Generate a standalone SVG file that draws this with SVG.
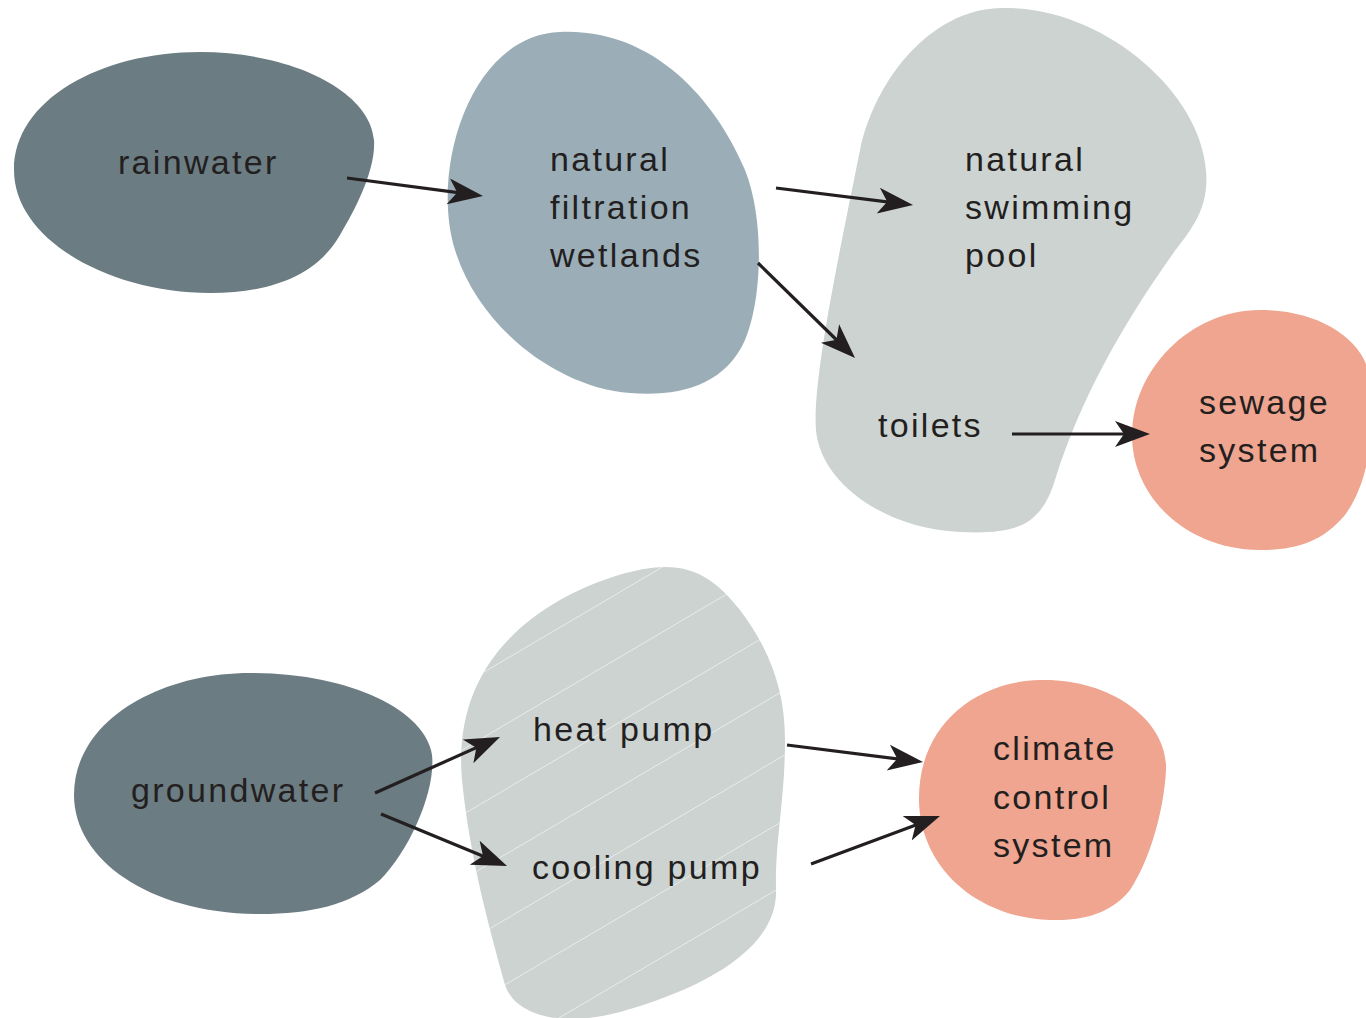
<svg xmlns="http://www.w3.org/2000/svg" width="1366" height="1018" viewBox="0 0 1366 1018">
<style>
.lbl{font-family:"Liberation Sans","DejaVu Sans",sans-serif;font-size:34px;letter-spacing:2.3px;fill:#231f20}
.dark{fill:#6b7c82}
.blue{fill:#9baeb8}
.light{fill:#ccd3d1}
.salmon{fill:#efa58f}
.conn{stroke:#231f20;stroke-width:3.2;fill:none}
.stripe{stroke:#ffffff;stroke-width:0.8;stroke-opacity:0.7}
</style>
<defs>
<marker id="ah" markerUnits="userSpaceOnUse" markerWidth="40" markerHeight="30" viewBox="0 -15 40 30" refX="25" refY="0" orient="auto">
<path d="M0,-13 L35,0 L0,13 L9,0 Z" fill="#231f20"/>
</marker>
<clipPath id="hpclip">
<path d="M665,567 C700,567 720,585 740,610 C770,650 785,690 785,740 C785,800 775,840 776,890 C778,950 700,990 620,1012 C560,1028 515,1015 505,985 C490,930 470,860 462,780 C455,700 490,640 560,600 C600,578 640,567 665,567 Z"/>
</clipPath>
</defs>
<rect width="1366" height="1018" fill="#ffffff"/>

<g id="rainwater">
<path class="dark" d="M200,52 C290,52 370,90 374,140 C376,170 355,210 340,235 C320,270 280,293 210,293 C110,293 14,240 14,170 C14,100 100,52 200,52 Z"/>
<text class="lbl" x="118" y="174">rainwater</text>
</g>

<g id="wetlands">
<path class="blue" d="M560,32 C660,28 720,110 745,170 C765,220 762,300 745,340 C725,385 680,397 630,393 C560,388 480,330 455,250 C430,170 470,35 560,32 Z"/>
<text class="lbl" x="550" y="171">natural</text>
<text class="lbl" x="550" y="219">filtration</text>
<text class="lbl" x="550" y="267">wetlands</text>
</g>

<g id="pool-toilets">
<path class="light" d="M1000,8 C1100,5 1200,90 1206,170 C1210,215 1185,235 1165,265 C1120,330 1080,400 1055,480 C1040,530 1010,534 960,532 C880,528 820,480 816,430 C812,380 840,250 860,150 C875,80 930,10 1000,8 Z"/>
<text class="lbl" x="965" y="171">natural</text>
<text class="lbl" x="965" y="219">swimming</text>
<text class="lbl" x="965" y="267">pool</text>
<text class="lbl" x="878" y="437">toilets</text>
</g>

<g id="sewage">
<path class="salmon" d="M1260,310 C1320,310 1366,340 1370,380 C1375,430 1370,480 1345,515 C1320,545 1290,550 1260,550 C1190,550 1132,500 1132,435 C1132,370 1190,310 1260,310 Z"/>
<text class="lbl" x="1199" y="414">sewage</text>
<text class="lbl" x="1199" y="462">system</text>
</g>

<g id="groundwater">
<path class="dark" d="M250,673 C350,673 425,710 432,755 C436,790 410,850 380,880 C350,905 310,914 260,914 C150,914 74,860 74,795 C74,720 160,673 250,673 Z"/>
<text class="lbl" x="131" y="802">groundwater</text>
</g>

<g id="pumps">
<path class="light" d="M665,567 C700,567 720,585 740,610 C770,650 785,690 785,740 C785,800 775,840 776,890 C778,950 700,990 620,1012 C560,1028 515,1015 505,985 C490,930 470,860 462,780 C455,700 490,640 560,600 C600,578 640,567 665,567 Z"/>
<g clip-path="url(#hpclip)">
<line class="stripe" x1="440" y1="568" x2="800" y2="356"/>
<line class="stripe" x1="440" y1="633" x2="800" y2="421"/>
<line class="stripe" x1="440" y1="698" x2="800" y2="486"/>
<line class="stripe" x1="440" y1="763" x2="800" y2="551"/>
<line class="stripe" x1="440" y1="828" x2="800" y2="616"/>
<line class="stripe" x1="440" y1="893" x2="800" y2="681"/>
<line class="stripe" x1="440" y1="958" x2="800" y2="746"/>
<line class="stripe" x1="440" y1="1023" x2="800" y2="811"/>
<line class="stripe" x1="440" y1="1088" x2="800" y2="876"/>
<line class="stripe" x1="440" y1="1153" x2="800" y2="941"/>
<line class="stripe" x1="440" y1="1218" x2="800" y2="1006"/>
</g>
<text class="lbl" x="533" y="741">heat pump</text>
<text class="lbl" x="532" y="879">cooling pump</text>
</g>

<g id="climate">
<path class="salmon" d="M1040,680 C1110,678 1168,720 1166,770 C1164,810 1150,860 1130,890 C1110,915 1080,921 1050,920 C980,918 920,870 919,800 C918,730 970,682 1040,680 Z"/>
<text class="lbl" x="993" y="760">climate</text>
<text class="lbl" x="993" y="809">control</text>
<text class="lbl" x="993" y="857">system</text>
</g>

<g id="connectors">
<line class="conn" x1="347" y1="178" x2="473.1" y2="194.7" marker-end="url(#ah)"/>
<line class="conn" x1="776" y1="188" x2="903.1" y2="203.8" marker-end="url(#ah)"/>
<line class="conn" x1="758" y1="263" x2="847.9" y2="351" marker-end="url(#ah)"/>
<line class="conn" x1="1012" y1="434" x2="1140" y2="434" marker-end="url(#ah)"/>
<line class="conn" x1="375" y1="793" x2="490.9" y2="741.1" marker-end="url(#ah)"/>
<line class="conn" x1="381" y1="814" x2="497.8" y2="862.2" marker-end="url(#ah)"/>
<line class="conn" x1="787" y1="745" x2="913.1" y2="760.8" marker-end="url(#ah)"/>
<line class="conn" x1="811" y1="864" x2="930.6" y2="819.5" marker-end="url(#ah)"/>
</g>
</svg>
